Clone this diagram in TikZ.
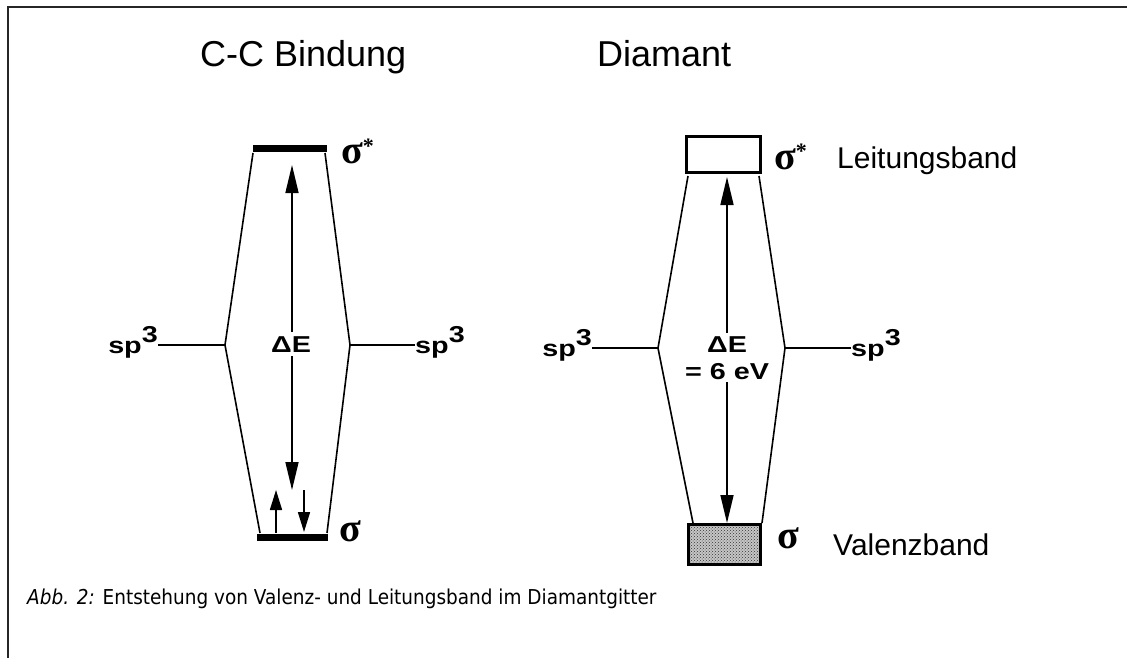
\documentclass[tikz,border=0pt]{standalone}
\usepackage{fontspec}
\setmainfont{Liberation Sans}
\newfontfamily\labfont[FakeStretch=1.25]{Liberation Sans}
\newfontfamily\sigfont{Liberation Serif}
\newfontfamily\capfont[FakeStretch=0.9]{DejaVu Sans}
\usetikzlibrary{arrows.meta,patterns}
\begin{document}
\begin{tikzpicture}[x=1pt,y=-1pt,
  lvl/.style={line width=1.6pt},
  title/.style={font=\fontsize{36}{40}\selectfont, inner sep=0pt},
  lab/.style={font=\labfont\bfseries\fontsize{23}{27}\selectfont, inner sep=0pt},
  sig/.style={font=\sigfont\bfseries\fontsize{40}{44}\selectfont, inner sep=0pt},
  band/.style={font=\fontsize{30}{34}\selectfont, inner sep=0pt},
  bigarrow/.style={line width=1.6pt, -{Triangle[length=28pt,width=13pt]}},
  smallarrow/.style={line width=1.6pt, -{Triangle[length=20pt,width=12pt]}},
  levelbar/.style={fill=black, inner sep=0pt, minimum height=7pt},
  bandbox/.style={draw, line width=3pt, inner sep=0pt}
]
\useasboundingbox (0,0) rectangle (1127,658);
% frame
\draw[line width=2.5pt, black!85] (1127,7) -- (8,7) -- (8,658);

% titles
\node[title, anchor=base west] (t1) at (200,67) {C-C Bindung};
\node[title, anchor=base west] (t2) at (597,67) {Diamant};

% ---------- left: C-C bond ----------
\node[levelbar, minimum width=74pt] (lstar) at (289.5,149) {};
\node[levelbar, minimum width=71pt] (lsig) at (292.5,537) {};
\coordinate (lsTL) at (253,153);
\coordinate (lsTR) at (325,153);
\coordinate (ljL) at (225,345);
\coordinate (ljR) at (350,345);
\coordinate (lbL) at (260,533);
\coordinate (lbR) at (327,533);
\draw[lvl] (lsTL) -- (ljL) -- (lbL);
\draw[lvl] (lsTR) -- (ljR) -- (lbR);

\node[lab, anchor=base east] (lsp1) at (158,353) {sp\raisebox{11pt}{3}};
\node[lab, anchor=base west] (lsp2) at (415,353) {sp\raisebox{11pt}{3}};
\draw[lvl] (ljL -| lsp1.east) -- (ljL);
\draw[lvl] (ljR) -- (ljR -| lsp2.west);

\node[lab, anchor=base, fill=white, inner sep=4pt] (ldE) at (291,352) {ΔE};
\coordinate (lTop) at (292,165);
\coordinate (lBot) at (292,490);
\draw[bigarrow] (lTop |- ldE.north) -- (lTop);
\draw[bigarrow] (lBot |- ldE.south) -- (lBot);

\coordinate (eUpS) at (276,533);
\coordinate (eUpT) at (276,490);
\coordinate (eDnS) at (304,490);
\coordinate (eDnT) at (304,532);
\draw[smallarrow] (eUpS) -- (eUpT);
\draw[smallarrow] (eDnS) -- (eDnT);

\node[sig, anchor=base west] (lss) at (341,164) {σ{\fontsize{22}{22}\selectfont\raisebox{10pt}{*}}};
\node[sig, anchor=base west] (ls) at (339,541) {σ};

% ---------- right: diamond ----------
\node[bandbox, minimum width=74pt, minimum height=36pt] (rcb) at (723.5,154.5) {};
\node[bandbox, minimum width=72pt, minimum height=40pt,
      preaction={fill=gray!45}, pattern=crosshatch dots, pattern color=black!80] (rvb) at (724.5,544.5) {};
\coordinate (rlT) at (688,176);
\coordinate (rjL) at (658,348);
\coordinate (rlB) at (693,523);
\coordinate (rrT) at (759,176);
\coordinate (rjR) at (785,348);
\coordinate (rrB) at (762,523);
\draw[lvl] (rlT) -- (rjL) -- (rlB);
\draw[lvl] (rrT) -- (rjR) -- (rrB);

\node[lab, anchor=base east] (rsp1) at (592,356) {sp\raisebox{11pt}{3}};
\node[lab, anchor=base west] (rsp2) at (851,356) {sp\raisebox{11pt}{3}};
\draw[lvl] (rjL -| rsp1.east) -- (rjL);
\draw[lvl] (rjR) -- (rjR -| rsp2.west);

\node[lab, anchor=base, inner sep=3pt] (rdE) at (727,352) {ΔE};
\node[lab, anchor=base, inner sep=3pt] (reV) at (727,379) {= 6 eV};
\coordinate (rTop) at (727,177);
\coordinate (rBot) at (727,523);
\draw[bigarrow] (rTop |- rdE.north) -- (rTop);
\draw[bigarrow] (rBot |- reV.south) -- (rBot);

\node[sig, anchor=base west] (rss) at (774,169) {σ{\fontsize{22}{22}\selectfont\raisebox{10pt}{*}}};
\node[sig, anchor=base west] (rs) at (777,548) {σ};
\node[band, anchor=base west] (lb) at (837,168) {Leitungsband};
\node[band, anchor=base west] (vb) at (833,555) {Valenzband};

% caption
\node[font=\capfont\fontsize{20.5}{24}\selectfont, anchor=base west, inner sep=0pt] (cap) at (27,604)
  {\textit{Abb. 2:} Entstehung von Valenz- und Leitungsband im Diamantgitter};
\end{tikzpicture}
\end{document}
